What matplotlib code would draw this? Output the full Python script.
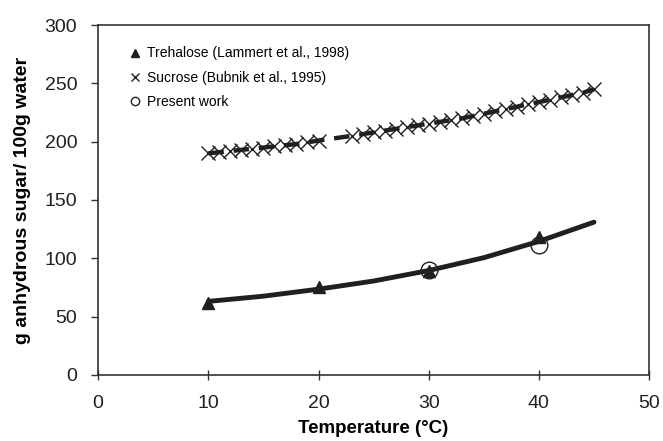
import matplotlib
matplotlib.use('Agg')
import matplotlib.pyplot as plt
from matplotlib.lines import Line2D

plt.rcParams['font.family'] = ['Liberation Sans', 'DejaVu Sans']

# Trehalose (Lammert et al., 1998)
treh_t = [10, 20, 30, 40]
treh_s = [62, 75, 89, 118]

# trehalose fit curve
fit_t = [10, 15, 20, 25, 30, 35, 40, 45]
fit_s = [63, 67.5, 73.5, 80.5, 89.5, 100.5, 114.5, 131]

# Sucrose (Bubnik et al., 1995)
suc_t = [10, 11, 12, 13, 14, 15, 16, 17, 18, 19, 20,
         23, 24, 25, 26, 27, 28, 29, 30, 31, 32, 33, 34,
         35, 36, 37, 38, 39, 40, 41, 42, 43, 44, 45]
suc_s = [190, 191, 192, 193, 194, 195, 196, 197, 198, 199.5, 201,
         205, 206.5, 208, 209.5, 211, 212.5, 214, 215.5, 217, 218.5, 220, 222,
         224, 226, 228, 230, 232, 234, 236, 238, 240, 242, 245]

# present work
pw_t = [30, 40]
pw_s = [90, 111]

labels = ['Trehalose (Lammert et al., 1998)', 'Sucrose (Bubnik et al., 1995)', 'Present work']

ink = '#231f20'

fig = plt.figure(figsize=(6.63, 4.41), dpi=100)
ax = fig.add_axes([0.148, 0.150, 0.831, 0.793])

ax.plot(suc_t, suc_s, color=ink, lw=3.2, dashes=(3.5, 2.2), zorder=2)
ax.plot(fit_t, fit_s, color=ink, lw=3.5, solid_capstyle='round', zorder=2)

ax.plot(treh_t, treh_s, '^', color=ink, ms=9, ls='none', zorder=3)
ax.plot(suc_t, suc_s, 'x', color=ink, ms=10, mew=1.0, ls='none', zorder=3)
ax.plot(pw_t, pw_s, 'o', mfc='none', mec=ink, ms=12, mew=1.0, ls='none', zorder=4)

ax.set_xlim(0, 50)
ax.set_ylim(0, 300)
ax.set_xticks(range(0, 51, 10))
ax.set_yticks(range(0, 301, 50))
ax.tick_params(axis='x', direction='inout', length=7, width=1, labelsize=14, pad=11,
               colors='#333333', labelcolor=ink)
ax.tick_params(axis='y', direction='out', length=5, width=1, labelsize=14, pad=10,
               colors='#333333', labelcolor=ink)
for s in ax.spines.values():
    s.set_color('#333333')
    s.set_linewidth(1.2)

ax.set_xlabel('Temperature (°C)', fontsize=13.5, fontweight='bold', labelpad=6)
ax.set_ylabel('g anhydrous sugar/ 100g water', fontsize=14, fontweight='bold', labelpad=10)

handles = [
    Line2D([], [], marker='^', color=ink, ms=6, ls='none'),
    Line2D([], [], marker='x', color=ink, ms=6, mew=1.0, ls='none'),
    Line2D([], [], marker='o', mfc='none', mec=ink, ms=6, mew=1.0, ls='none'),
]
ax.legend(handles, labels, loc='upper left', frameon=False, fontsize=10,
          handletextpad=0.3, handlelength=1.0, borderaxespad=0.0, labelspacing=0.75,
          bbox_to_anchor=(0.045, 0.955))

fig.savefig('out.png', dpi=100)
